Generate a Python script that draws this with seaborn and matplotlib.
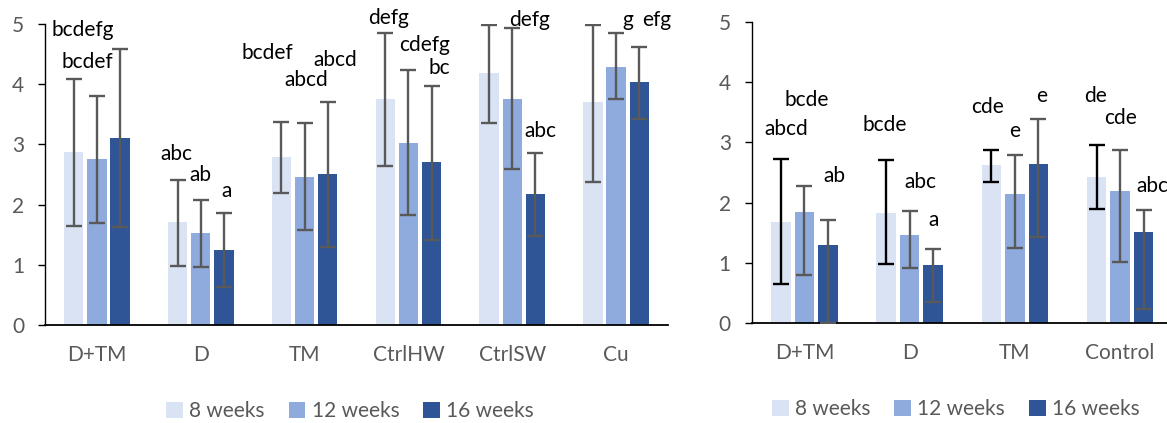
import numpy as np
import pandas as pd
import matplotlib
matplotlib.use("Agg")
import matplotlib.pyplot as plt
import seaborn as sns
from matplotlib.patches import Patch

# === Datos ===
weeks = ["8 weeks", "12 weeks", "16 weeks"]
colores = ["#DAE3F3", "#8FAADC", "#2F5597"]

grupos_izq = ["D+TM", "D", "TM", "CtrlHW", "CtrlSW", "Cu"]
media_izq = {
    "8 weeks": [2.88, 1.71, 2.79, 3.75, 4.19, 3.71],
    "12 weeks": [2.76, 1.53, 2.45, 3.03, 3.76, 4.29],
    "16 weeks": [3.11, 1.25, 2.51, 2.70, 2.18, 4.03],
}
alto_izq = {
    "8 weeks": [4.09, 2.41, 3.37, 4.85, 4.99, 4.99],
    "12 weeks": [3.80, 2.07, 3.35, 4.23, 4.94, 4.85],
    "16 weeks": [4.58, 1.86, 3.70, 3.97, 2.85, 4.62],
}
bajo_izq = {
    "8 weeks": [1.65, 0.98, 2.19, 2.64, 3.36, 2.38],
    "12 weeks": [1.70, 0.96, 1.57, 1.83, 2.59, 3.75],
    "16 weeks": [1.62, 0.63, 1.30, 1.41, 1.48, 3.42],
}

grupos_der = ["D+TM", "D", "TM", "Control"]
media_der = {
    "8 weeks": [1.68, 1.83, 2.63, 2.43],
    "12 weeks": [1.85, 1.47, 2.14, 2.20],
    "16 weeks": [1.30, 0.97, 2.64, 1.51],
}
alto_der = {
    "8 weeks": [2.72, 2.70, 2.88, 2.96],
    "12 weeks": [2.28, 1.87, 2.79, 2.87],
    "16 weeks": [1.71, 1.24, 3.39, 1.88],
}
bajo_der = {
    "8 weeks": [0.65, 0.98, 2.35, 1.89],
    "12 weeks": [0.80, 0.92, 1.25, 1.01],
    "16 weeks": [0.0, 0.36, 1.43, 0.24],
}

# letras de significancia: (grupo, desplazamiento, altura, texto)
letras_izq = [
    (0, -0.14, 4.90, "bcdefg"), (0, -0.09, 4.37, "bcdef"),
    (1, -0.23, 2.84, "abc"), (1, 0.0, 2.49, "ab"), (1, 0.25, 2.23, "a"),
    (2, -0.36, 4.52, "bcdef"), (2, 0.02, 4.07, "abcd"), (2, 0.30, 4.40, "abcd"),
    (3, -0.19, 5.10, "defg"), (3, 0.16, 4.65, "cdefg"), (3, 0.30, 4.27, "bc"),
    (4, 0.17, 5.07, "defg"), (4, 0.27, 3.22, "abc"),
    (5, 0.11, 5.07, "g"), (5, 0.39, 5.07, "efg"),
]
letras_der = [
    (0, -0.17, 3.22, "abcd"), (0, 0.02, 3.70, "bcde"), (0, 0.29, 2.45, "ab"),
    (1, -0.24, 3.28, "bcde"), (1, 0.10, 2.35, "abc"), (1, 0.23, 1.71, "a"),
    (2, -0.26, 3.58, "cde"), (2, 0.0, 3.19, "e"), (2, 0.25, 3.76, "e"),
    (3, -0.23, 3.77, "de"), (3, 0.0, 3.40, "cde"), (3, 0.31, 2.28, "abc"),
]

sns.set_style("white")
plt.rcParams["font.family"] = ["Lato", "DejaVu Sans"]
gris = "#595959"
fs = 15

fig = plt.figure(figsize=(11.67, 4.23), dpi=100)
ax1 = fig.add_axes([45 / 1167, 0.2317, 623 / 1167, 0.7116])
ax2 = fig.add_axes([751.7 / 1167, 0.2357, 421 / 1167, 0.713])


def panel(ax, grupos, media, alto, bajo, letras, color_err, leg_x):
    df = pd.DataFrame([
        {"grupo": g, "weeks": w, "valor": media[w][i]}
        for w in weeks for i, g in enumerate(grupos)
    ])
    sns.barplot(data=df, x="grupo", y="valor", hue="weeks", order=grupos,
                hue_order=weeks, palette=colores, saturation=1, width=0.67,
                gap=0.17, linewidth=0, errorbar=None, legend=False, ax=ax)
    for k, w in enumerate(weeks):
        cont = ax.containers[k]
        xs = [p.get_x() + p.get_width() / 2 for p in cont.patches]
        m = np.array(media[w])
        yerr = [m - np.array(bajo[w]), np.array(alto[w]) - m]
        ax.errorbar(xs, m, yerr=yerr, fmt="none", ecolor=color_err[k],
                    elinewidth=1.7, capsize=6, capthick=1.7, zorder=3)
    for g, dx, y, t in letras:
        ax.text(g + dx, y, t, ha="center", va="center", fontsize=fs,
                color="black", clip_on=False)
    ax.set_xlim(-0.5, len(grupos) - 0.5)
    ax.set_ylim(0, 5)
    ax.set_yticks(range(6))
    ax.set_xlabel("")
    ax.set_ylabel("")
    for s in ["top", "right"]:
        ax.spines[s].set_visible(False)
    ax.spines["left"].set_color("black")
    ax.spines["bottom"].set_color("black")
    ax.spines["left"].set_linewidth(1.0)
    ax.spines["bottom"].set_linewidth(1.3)
    ax.tick_params(axis="y", left=True, length=5, width=1, color="black",
                   labelsize=fs, labelcolor=gris, pad=10)
    ax.tick_params(axis="x", bottom=False, labelsize=fs, labelcolor=gris, pad=11)
    handles = [Patch(facecolor=c, edgecolor="none", label=w)
               for c, w in zip(colores, weeks)]
    ax.legend(handles=handles, loc="upper center", bbox_to_anchor=(leg_x, -0.19),
              ncol=3, frameon=False, fontsize=fs, labelcolor=gris,
              handlelength=0.8, handleheight=0.8, handletextpad=0.3,
              columnspacing=1.15)


panel(ax1, grupos_izq, media_izq, alto_izq, bajo_izq, letras_izq,
      [gris, gris, gris], 0.49)
panel(ax2, grupos_der, media_der, alto_der, bajo_der, letras_der,
      ["black", gris, gris], 0.485)

fig.savefig("out.png", dpi=100)
